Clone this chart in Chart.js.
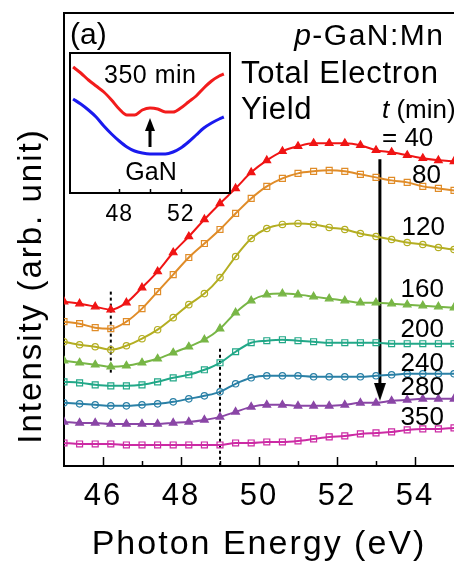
<!DOCTYPE html>
<html>
<head>
<meta charset="utf-8">
<script src="https://cdn.jsdelivr.net/npm/chart.js@4"></script>
<style>
html, body { margin: 0; padding: 0; background: #fff; }
#wrap { position: relative; width: 454px; height: 563px; overflow: hidden; }
#wrap canvas { position: absolute; left: 0; top: 0; }
</style>
</head>
<body>
<div id="wrap">
  <canvas id="main" width="454" height="563"></canvas>
  <canvas id="inset" width="454" height="563"></canvas>
</div>
<script>
// Photon energy (eV) of the measured points
var energy = [45.0, 45.4, 45.8, 46.2, 46.6, 47.0, 47.4, 47.8, 48.2, 48.6, 49.0, 49.4, 49.8,
              50.2, 50.6, 51.0, 51.4, 51.8, 52.2, 52.6, 53.0, 53.4, 53.8, 54.2, 54.6, 55.0];

// TEY intensity (arb. unit, curves offset) for each etching time
var t40  = [1.64, 1.62, 1.59, 1.56, 1.63, 1.78, 1.94, 2.13, 2.29, 2.46, 2.62, 2.77, 2.93,
            3.05, 3.14, 3.19, 3.22, 3.22, 3.22, 3.20, 3.15, 3.13, 3.10, 3.07, 3.05, 3.04];
var t80  = [1.44, 1.42, 1.38, 1.37, 1.44, 1.57, 1.74, 1.91, 2.08, 2.22, 2.36, 2.52, 2.67,
            2.79, 2.87, 2.92, 2.94, 2.95, 2.94, 2.91, 2.88, 2.85, 2.83, 2.79, 2.77, 2.75];
var t120 = [1.24, 1.21, 1.19, 1.16, 1.20, 1.27, 1.36, 1.48, 1.61, 1.72, 1.88, 2.09, 2.27,
            2.37, 2.41, 2.42, 2.41, 2.38, 2.36, 2.32, 2.29, 2.26, 2.23, 2.21, 2.18, 2.16];
var t160 = [1.05, 1.03, 1.01, 0.99, 1.00, 1.03, 1.07, 1.13, 1.19, 1.26, 1.37, 1.53, 1.65,
            1.71, 1.72, 1.71, 1.69, 1.67, 1.65, 1.63, 1.63, 1.62, 1.61, 1.60, 1.59, 1.58];
var t200 = [0.84, 0.83, 0.81, 0.80, 0.80, 0.81, 0.84, 0.88, 0.91, 0.96, 1.03, 1.14, 1.23,
            1.25, 1.26, 1.25, 1.24, 1.23, 1.23, 1.23, 1.23, 1.22, 1.22, 1.22, 1.22, 1.22];
var t240 = [0.63, 0.62, 0.61, 0.60, 0.60, 0.61, 0.62, 0.64, 0.67, 0.70, 0.74, 0.82, 0.88,
            0.90, 0.90, 0.90, 0.89, 0.89, 0.89, 0.89, 0.90, 0.91, 0.92, 0.92, 0.92, 0.92];
var t280 = [0.44, 0.43, 0.43, 0.42, 0.42, 0.42, 0.42, 0.43, 0.44, 0.46, 0.49, 0.54, 0.59,
            0.61, 0.61, 0.60, 0.60, 0.60, 0.61, 0.63, 0.63, 0.65, 0.66, 0.67, 0.67, 0.67];
var t350 = [0.23, 0.22, 0.22, 0.22, 0.21, 0.21, 0.21, 0.21, 0.21, 0.21, 0.21, 0.23, 0.23,
            0.24, 0.24, 0.25, 0.27, 0.29, 0.30, 0.32, 0.33, 0.34, 0.36, 0.37, 0.37, 0.38];

var timeLabels = ["= 40", "80", "120", "160", "200", "240", "280", "350"];

// inset: 350 min vs GaN reference
var insetEnergy = [45.0, 45.5, 46.0, 46.5, 47.0, 47.5, 48.0, 48.5, 49.0, 49.5, 50.0,
                   50.5, 51.0, 51.5, 52.0, 52.5, 53.0, 53.5, 54.0, 54.5, 54.8];
var inset350 = [1.26, 1.20, 1.13, 1.07, 1.01, 0.93, 0.84, 0.78, 0.78, 0.83, 0.85,
                0.84, 0.81, 0.81, 0.85, 0.91, 0.97, 1.05, 1.12, 1.17, 1.19];
var insetGaN = [0.94, 0.89, 0.83, 0.76, 0.67, 0.59, 0.52, 0.46, 0.42, 0.40, 0.39,
                0.39, 0.39, 0.41, 0.45, 0.51, 0.58, 0.65, 0.70, 0.74, 0.76];

// guide lines and arrows (eV, intensity)
var guide1X = [46.2, 46.2], guide1Y = [1.74, 0.91];
var guide2X = [49.0, 49.0], guide2Y = [1.17, 0.0];
var arrowX = [53.1, 53.1], arrowY = [3.06, 0.74];
var insetArrowX = [50.0, 50.0], insetArrowY = [0.46, 0.685];

var FONT = "'Liberation Sans', Arial, Helvetica, sans-serif";
Chart.defaults.font.family = FONT;
Chart.defaults.color = "#000";

function pts(xs, ys) {
    var out = [];
    for (var i = 0; i < xs.length; i++) out.push({ x: xs[i], y: ys[i] });
    return out;
}

function arrowHead(w, h, down) {
    var c = document.createElement("canvas");
    c.width = w; c.height = h;
    var g = c.getContext("2d");
    g.fillStyle = "#000";
    g.beginPath();
    if (down) { g.moveTo(0, 0); g.lineTo(w, 0); g.lineTo(w / 2, h); }
    else { g.moveTo(w / 2, 0); g.lineTo(w, h); g.lineTo(0, h); }
    g.closePath();
    g.fill();
    return c;
}

function curve(data, color, style) {
    var filled = style === "triangle";
    return {
        data: pts(energy, data),
        borderColor: color,
        borderWidth: 2,
        backgroundColor: filled ? color : "rgba(255,255,255,0)",
        pointStyle: style,
        pointRadius: style === "circle" ? 3.2 : (style === "rect" ? 4.2 : 4.4),
        pointBorderColor: color,
        pointBackgroundColor: filled ? color : "rgba(255,255,255,0)",
        pointBorderWidth: 1.2,
        tension: 0.4,
        cubicInterpolationMode: "monotone"
    };
}

function guide(xs, ys) {
    return {
        data: pts(xs, ys), borderColor: "#000", borderWidth: 2, borderDash: [3, 3],
        pointRadius: 0, tension: 0
    };
}

function arrow(xs, ys, head, width) {
    return {
        data: pts(xs, ys), borderColor: "#000", borderWidth: width, tension: 0,
        pointStyle: function (c) { return c.dataIndex === 1 ? head : "circle"; },
        pointRadius: function (c) { return c.dataIndex === 1 ? 8 : 0; }
    };
}

// the printed figure uses wide lettering: open the spacing a bit
var wideText = {
    id: "wideText",
    beforeDraw: function (chart, args, opts) {
        chart.ctx.letterSpacing = opts.spacing || "0px";
    }
};

// tick marks drawn inward from the bottom axis
var inTicks = {
    id: "inTicks",
    afterDraw: function (chart, args, opts) {
        var sc = chart.scales.x, ctx = chart.ctx, bottom = chart.chartArea.bottom;
        ctx.save();
        ctx.strokeStyle = "#000";
        ctx.lineWidth = opts.width || 1.5;
        sc.ticks.forEach(function (t) {
            var v = Math.round(t.value * 10) / 10;
            if (v !== Math.round(v) || v <= sc.min || v >= sc.max) return;
            var len = (v % 2 === 0) ? opts.major : opts.minor;
            var px = Math.round(sc.getPixelForValue(v)) + 0.5;
            ctx.beginPath();
            ctx.moveTo(px, bottom);
            ctx.lineTo(px, bottom - len);
            ctx.stroke();
        });
        ctx.restore();
    }
};

// text labels placed on the figure
var labels = {
    id: "labels",
    afterDraw: function (chart, args, opts) {
        var ctx = chart.ctx;
        ctx.save();
        ctx.fillStyle = "#000";
        ctx.textBaseline = "alphabetic";
        opts.items.forEach(function (it) {
            var x = it.x;
            ctx.letterSpacing = (it.sp || 0) + "px";
            var parts = it.parts || [{ text: it.text }];
            var total = 0;
            parts.forEach(function (p) {
                ctx.font = (p.italic ? "italic " : "") + it.size + "px " + FONT;
                total += ctx.measureText(p.text).width;
            });
            total -= (it.sp || 0);
            if (it.align === "right") x -= total;
            if (it.align === "center") x -= total / 2;
            ctx.textAlign = "left";
            parts.forEach(function (p) {
                ctx.font = (p.italic ? "italic " : "") + it.size + "px " + FONT;
                ctx.fillText(p.text, x, it.y);
                x += ctx.measureText(p.text).width;
            });
        });
        ctx.restore();
    }
};

// white plot area and frame for the inset
var insetFrame = {
    id: "insetFrame",
    beforeDraw: function (chart) {
        var a = chart.chartArea, ctx = chart.ctx;
        ctx.save();
        ctx.fillStyle = "#fff";
        ctx.fillRect(a.left, a.top, a.right - a.left, a.bottom - a.top);
        ctx.restore();
    },
    afterDraw: function (chart) {
        var a = chart.chartArea, ctx = chart.ctx;
        ctx.save();
        ctx.strokeStyle = "#000";
        ctx.lineWidth = 2;
        ctx.strokeRect(a.left, a.top, a.right - a.left, a.bottom - a.top);
        ctx.restore();
    }
};

var colors = ["#f01414", "#e08c28", "#b4ae22", "#78b646", "#22a888", "#2a80a6", "#8a46a6", "#cc2aa4"];

new Chart(document.getElementById("main"), {
    type: "line",
    data: {
        datasets: [
            curve(t40, colors[0], "triangle"),
            curve(t80, colors[1], "rect"),
            curve(t120, colors[2], "circle"),
            curve(t160, colors[3], "triangle"),
            curve(t200, colors[4], "rect"),
            curve(t240, colors[5], "circle"),
            curve(t280, colors[6], "triangle"),
            curve(t350, colors[7], "rect"),
            guide(guide1X, guide1Y),
            guide(guide2X, guide2Y),
            arrow(arrowX, arrowY, arrowHead(12, 18, true), 3)
        ]
    },
    options: {
        responsive: false,
        animation: false,
        events: [],
        layout: { autoPadding: false, padding: { top: 13, right: 0, left: 0, bottom: 0 } },
        plugins: {
            legend: { display: false },
            tooltip: { enabled: false },
            wideText: { spacing: "2px" },
            inTicks: { major: 9, minor: 5, width: 1.5 },
            labels: {
                items: [
                    { text: "(a)", x: 70, y: 44, size: 30 },
                    { parts: [{ text: "p", italic: true }, { text: "-GaN:Mn" }], x: 443, y: 45, size: 30, sp: 1.5, align: "right" },
                    { text: "Total Electron", x: 241, y: 83, size: 31, sp: 0.7 },
                    { text: "Yield", x: 241, y: 119, size: 31, sp: 0.7 },
                    { parts: [{ text: "t", italic: true }, { text: " (min)" }], x: 382, y: 118, size: 26 },
                    { text: timeLabels[0], x: 382, y: 146, size: 26 },
                    { text: timeLabels[1], x: 441, y: 183, size: 26, align: "right" },
                    { text: timeLabels[2], x: 445, y: 235, size: 26, align: "right" },
                    { text: timeLabels[3], x: 444, y: 297, size: 26, align: "right" },
                    { text: timeLabels[4], x: 444, y: 337, size: 26, align: "right" },
                    { text: timeLabels[5], x: 444, y: 371, size: 26, align: "right" },
                    { text: timeLabels[6], x: 444, y: 395, size: 26, align: "right" },
                    { text: timeLabels[7], x: 444, y: 425, size: 26, align: "right" }
                ]
            }
        },
        scales: {
            x: {
                type: "linear", min: 45, max: 55,
                afterFit: function (s) { s.height = 97; s.paddingLeft = 0; s.paddingRight = 0; },
                ticks: {
                    stepSize: 1, autoSkip: false, maxRotation: 0, padding: 12,
                    font: { size: 31 },
                    callback: function (v) { return (v % 2 === 0) ? String(v) : ""; }
                },
                grid: { display: true, drawOnChartArea: false, drawTicks: false },
                border: { color: "#000", width: 2 },
                title: {
                    display: true, text: "Photon Energy (eV)",
                    font: { size: 34, lineHeight: 1.1 }, padding: { top: 0, bottom: 0 }
                }
            },
            x2: {
                type: "linear", position: "top", min: 45, max: 55,
                ticks: { display: false },
                grid: { drawOnChartArea: false, drawTicks: false },
                border: { color: "#000", width: 2 }
            },
            y: {
                type: "linear", min: 0, max: 4.52,
                afterFit: function (s) { s.width = 64; },
                ticks: { display: false },
                grid: { display: false },
                border: { color: "#000", width: 2 },
                title: {
                    display: true, align: "start", text: "  Intensity (arb. unit)",
                    font: { size: 33, lineHeight: 1.2 }, padding: { top: 12, bottom: 0 }
                }
            }
        }
    },
    plugins: [wideText, inTicks, labels]
});

new Chart(document.getElementById("inset"), {
    type: "line",
    data: {
        datasets: [
            {
                data: pts(insetEnergy, inset350), borderColor: "#f21c1c", borderWidth: 3,
                pointRadius: 0, tension: 0.4, cubicInterpolationMode: "monotone"
            },
            {
                data: pts(insetEnergy, insetGaN), borderColor: "#1a1aee", borderWidth: 3,
                pointRadius: 0, tension: 0.4, cubicInterpolationMode: "monotone"
            },
            arrow(insetArrowX, insetArrowY, arrowHead(10, 13, false), 3)
        ]
    },
    options: {
        responsive: false,
        animation: false,
        events: [],
        layout: { autoPadding: false, padding: { top: 53, left: 70, right: 224, bottom: 0 } },
        plugins: {
            legend: { display: false },
            tooltip: { enabled: false },
            wideText: { spacing: "1px" },
            inTicks: { major: 4, minor: 4, width: 1.5 },
            labels: {
                items: [
                    { text: "350 min", x: 150, y: 83, size: 25, sp: 0.5, align: "center" },
                    { text: "GaN", x: 151, y: 180, size: 25, align: "center" }
                ]
            }
        },
        scales: {
            x: {
                type: "linear", min: 44.8, max: 55.2,
                afterFit: function (s) { s.height = 370; s.paddingLeft = 0; s.paddingRight = 0; },
                ticks: {
                    stepSize: 2, autoSkip: false, maxRotation: 0, padding: 8,
                    font: { size: 23 },
                    callback: function (v) { return (v === 48 || v === 52) ? String(v) : ""; }
                },
                grid: { display: false, drawTicks: false },
                border: { display: false }
            },
            y: {
                type: "linear", min: 0, max: 1.4,
                afterFit: function (s) { s.width = 0; },
                ticks: { display: false },
                grid: { display: false },
                border: { display: false }
            }
        }
    },
    plugins: [wideText, insetFrame, inTicks, labels]
});
</script>
</body>
</html>
